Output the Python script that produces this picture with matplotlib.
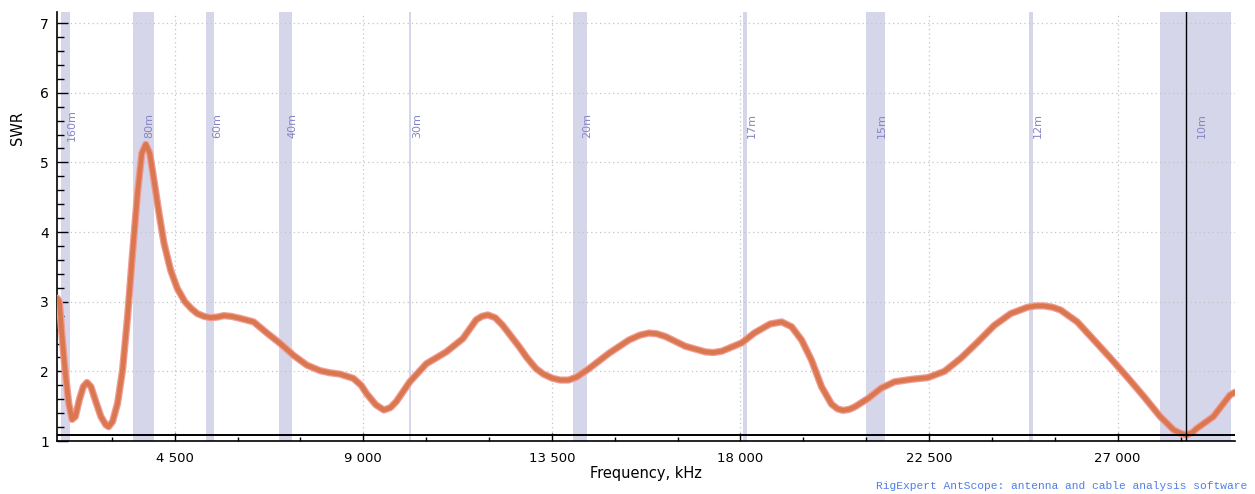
import numpy as np
import matplotlib.pyplot as plt
from matplotlib.ticker import MultipleLocator, FuncFormatter
import matplotlib.transforms as mtransforms

# Curva SWR (kHz, SWR)
freq = [1700, 1750, 1814, 1893, 1973, 2052, 2130, 2225, 2320, 2408, 2503, 2622, 2741,
        2860, 2924, 3019, 3138, 3257, 3376, 3495, 3613, 3716, 3811, 3906, 4008, 4127,
        4246, 4405, 4564, 4745, 4900, 5040, 5200, 5356, 5520, 5672, 5850, 6069, 6385,
        6703, 7020, 7336, 7654, 7970, 8200, 8446, 8762, 8950, 9081, 9300, 9492, 9650,
        9794, 10110, 10507, 10982, 11377, 11695, 11830, 11971, 12150, 12328, 12725,
        12900, 13121, 13300, 13516, 13700, 13900, 14100, 14388, 14864, 15339, 15600,
        15815, 16000, 16211, 16687, 17162, 17350, 17557, 18033, 18330, 18707, 18983,
        19221, 19459, 19696, 19934, 20172, 20320, 20450, 20600, 20728, 21044, 21361,
        21679, 22073, 22470, 22867, 23262, 23659, 24056, 24451, 24848, 25050, 25245,
        25450, 25640, 26037, 26434, 26829, 27226, 27623, 28016, 28335, 28500, 28640,
        28780, 28887, 29284, 29680, 29800]
swr = [3.05, 3.00, 2.50, 1.97, 1.54, 1.31, 1.35, 1.59, 1.78, 1.84, 1.78, 1.56, 1.35,
       1.23, 1.205, 1.28, 1.54, 2.02, 2.78, 3.69, 4.55, 5.13, 5.26, 5.13, 4.74, 4.27,
       3.84, 3.45, 3.19, 3.00, 2.90, 2.83, 2.79, 2.77, 2.78, 2.80, 2.79, 2.76, 2.71,
       2.55, 2.40, 2.23, 2.09, 2.01, 1.98, 1.96, 1.90, 1.80, 1.68, 1.52, 1.445, 1.48,
       1.57, 1.85, 2.11, 2.28, 2.47, 2.74, 2.79, 2.81, 2.77, 2.66, 2.35,
       2.20, 2.04, 1.96, 1.90, 1.875, 1.875, 1.92, 2.04, 2.26, 2.45, 2.52,
       2.55, 2.54, 2.50, 2.36, 2.28, 2.27, 2.29, 2.41, 2.55, 2.68, 2.71,
       2.64, 2.45, 2.16, 1.78, 1.53, 1.46, 1.44, 1.455, 1.49, 1.61, 1.76,
       1.85, 1.885, 1.91, 2.00, 2.19, 2.42, 2.66, 2.83, 2.92, 2.94, 2.94,
       2.92, 2.88, 2.71, 2.45, 2.19, 1.92, 1.64, 1.35, 1.16, 1.11, 1.086,
       1.12, 1.18, 1.35, 1.66, 1.70]

# Bandas de radioaficionado (kHz)
bandas = ['160m', '80m', '60m', '40m', '30m', '20m', '17m', '15m', '12m', '10m']
banda_ini = [1800, 3500, 5250, 7000, 10100, 14000, 18068, 21000, 24890, 28000]
banda_fin = [2000, 4000, 5450, 7300, 10150, 14350, 18168, 21450, 24990, 29700]

cursor = 28640

fig = plt.figure(figsize=(12.55, 4.94), dpi=100)
ax = fig.add_axes([57.3 / 1255, 53 / 494, (1235 - 57.3) / 1255, (441 - 12) / 494])

# Bandas sombreadas y etiquetas
for nombre, lo, hi in zip(bandas, banda_ini, banda_fin):
    ax.axvspan(lo, hi, color='#d6d6ea', lw=0, zorder=0)
    off = mtransforms.offset_copy(ax.transData, fig=fig, x=1.5, y=0, units='dots')
    ax.text((lo + hi) / 2, 5.53, nombre, rotation=90, ha='left', va='center',
            fontsize=8, color='#8585c5', transform=off, zorder=1)

# Curva (halo + linea)
ax.plot(freq, swr, color='#f29a96', lw=5.2, solid_capstyle='round',
        solid_joinstyle='round', zorder=3)
ax.plot(freq, swr, color='#d9784f', lw=3.4, solid_capstyle='round',
        solid_joinstyle='round', zorder=4)

# Cursor
ax.axvline(cursor, color='black', lw=1, zorder=5)
ax.axhline(1.086, color='black', lw=1.4, zorder=5)

ax.set_xlim(1700, 29800)
ax.set_ylim(1, 7.16)

ax.xaxis.set_major_locator(MultipleLocator(4500))
ax.xaxis.set_minor_locator(MultipleLocator(1500))
ax.xaxis.set_major_formatter(FuncFormatter(lambda v, p: f'{int(v):,}'.replace(',', ' ')))
ax.yaxis.set_major_locator(MultipleLocator(1))
ax.yaxis.set_minor_locator(MultipleLocator(0.2))

ax.tick_params(axis='x', which='major', direction='in', length=6, width=1, labelsize=9.5, pad=8)
ax.tick_params(axis='x', which='minor', direction='in', length=3, width=1)
ax.tick_params(axis='y', which='major', direction='in', length=8, width=1, labelsize=10, pad=6)
ax.tick_params(axis='y', which='minor', direction='in', length=5, width=1)

ax.grid(True, which='major', color='#c4c4c4', ls=(0, (1, 2.5)), lw=0.9)
ax.set_axisbelow(True)

for s in ['top', 'right']:
    ax.spines[s].set_visible(False)
ax.spines['left'].set_linewidth(1.2)
ax.spines['bottom'].set_linewidth(1.2)

ax.set_ylabel('SWR', fontsize=10.5)
ax.yaxis.set_label_coords(-0.0334, 0.73)
ax.set_xlabel('Frequency, kHz', fontsize=10.5)
ax.xaxis.set_label_coords(0.5, -0.075)
ax.xaxis.label.set_va('center')
ax.yaxis.label.set_va('center')

fig.text(1247 / 1255, 1 - 486 / 494, 'RigExpert AntScope: antenna and cable analysis software',
         family='Liberation Mono', fontsize=8.1, color='#4f7fe8', ha='right', va='center')

fig.savefig('out.png', dpi=100)
